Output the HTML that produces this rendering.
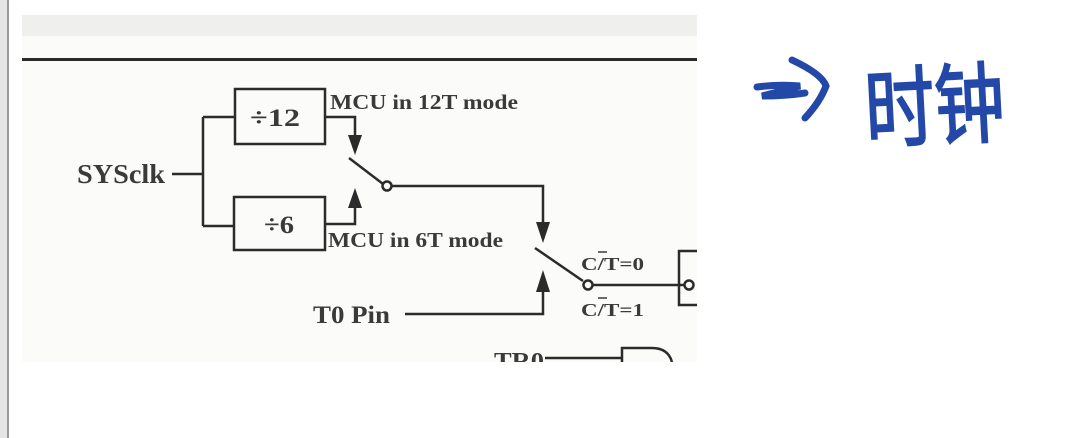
<!DOCTYPE html>
<html><head><meta charset="utf-8"><style>
html,body{margin:0;padding:0;width:1090px;height:438px;background:#fff;overflow:hidden}
svg{display:block}
</style></head><body>
<svg width="1090" height="438" viewBox="0 0 1090 438" xmlns="http://www.w3.org/2000/svg">
<rect x="0" y="0" width="1090" height="438" fill="#ffffff"/>
<rect x="0" y="0" width="8" height="438" fill="#e6e6e6"/>
<rect x="7" y="0" width="2" height="438" fill="#9a9a9a"/>
<rect x="22" y="36" width="675" height="326" fill="#fbfbf9"/>
<rect x="22" y="15" width="675" height="21" fill="#efefed"/>
<rect x="22" y="58" width="675" height="3" fill="#2a2a2a"/>
<g stroke="#2b2b2b" stroke-width="2.5" fill="none">
<rect x="235" y="89" width="90" height="55"/>
<rect x="234" y="197" width="91" height="53"/>
<path d="M172 174 H203 M203 117 V226 M203 117 H235 M203 226 H234"/>
<path d="M325 117 H355 V138"/>
<path d="M325 224 H355 V205"/>
<path d="M349 158 L383 184"/>
<circle cx="387" cy="186" r="4.5" fill="#fbfbf9"/>
<path d="M391 186 H543 V224"/>
<path d="M535 248 L583 281"/>
<circle cx="588" cy="285" r="4.5" fill="#fbfbf9"/>
<path d="M592 285 H684"/>
<circle cx="689" cy="285" r="4.5" fill="#fbfbf9"/>
<path d="M405 314 H543 V292"/>
<path d="M697 251 H679 V305 H697"/>
<path d="M545 358 H622 M622 362 V348 H652 Q668 348 672 362"/>
</g>
<g fill="#2b2b2b">
<polygon points="348,135 362,135 355,155"/>
<polygon points="348,208 362,208 355,188"/>
<polygon points="536,222 550,222 543,243"/>
<polygon points="536,292 550,292 543,270"/>
</g>
<g font-family="'Liberation Serif',serif" font-weight="bold" fill="#3a3a3a">
<text x="77" y="183" font-size="27" textLength="88" lengthAdjust="spacingAndGlyphs">SYSclk</text>
<text x="250" y="126" font-size="25" textLength="50" lengthAdjust="spacingAndGlyphs">÷12</text>
<text x="264" y="233" font-size="25" textLength="30" lengthAdjust="spacingAndGlyphs">÷6</text>
<text x="330" y="109" font-size="21" textLength="188" lengthAdjust="spacingAndGlyphs">MCU in 12T mode</text>
<text x="328" y="247" font-size="21" textLength="175" lengthAdjust="spacingAndGlyphs">MCU in 6T mode</text>
<text x="313" y="323" font-size="25" textLength="77" lengthAdjust="spacingAndGlyphs">T0 Pin</text>
<text x="581" y="270" font-size="18" textLength="63" lengthAdjust="spacingAndGlyphs">C/T=0</text>
<text x="581" y="316" font-size="18" textLength="63" lengthAdjust="spacingAndGlyphs">C/T=1</text>
<text x="494" y="369" font-size="24" textLength="50" lengthAdjust="spacingAndGlyphs">TR0</text>
</g>
<rect x="22" y="362" width="675" height="20" fill="#ffffff"/>
<g stroke="#3a3a3a" stroke-width="1.5">
<path d="M598 252 H607 M598 298 H607"/>
</g>
<g stroke="#2348a8" stroke-width="7" stroke-linecap="round" fill="none">
<path d="M757 87 Q780 84 800 86 Q782 91 762 96 Q785 96 805 93"/>
<path d="M792 60 Q822 74 826 86 Q820 102 805 118"/>
</g>
<text x="864" y="138" font-family="'Liberation Sans','Noto Sans CJK SC',sans-serif" font-size="88" font-weight="normal" fill="#2348a8" stroke="#2348a8" stroke-width="2" transform="rotate(-3 930 95)" textLength="140" lengthAdjust="spacingAndGlyphs">时钟</text>
</svg>
</body></html>
